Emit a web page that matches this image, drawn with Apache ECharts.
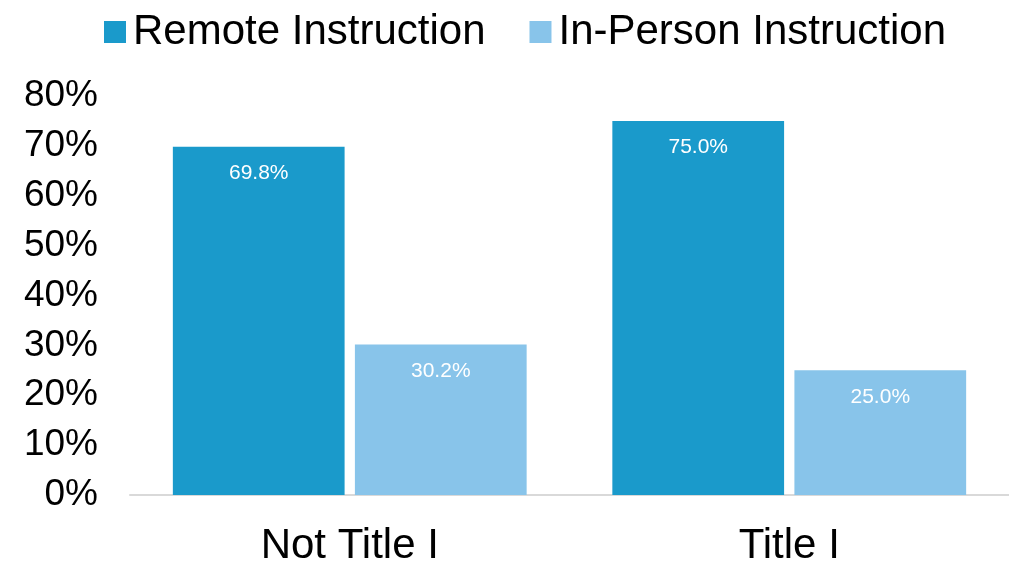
<!DOCTYPE html>
<html>
<head>
<meta charset="utf-8">
<script src="https://cdn.jsdelivr.net/npm/echarts@6/dist/echarts.min.js"></script>
<style>html,body{margin:0;padding:0;background:#fff}#c{width:1009px;height:567px}</style>
</head>
<body>
<div id="c"></div>
<script>
const categories = ['Not Title I', 'Title I'];
const seriesNames = ['Remote Instruction', 'In-Person Instruction'];
const remoteValues = [69.8, 75.0];
const inPersonValues = [30.2, 25.0];
const yTicks = [0, 10, 20, 30, 40, 50, 60, 70, 80];

const chart = echarts.init(document.getElementById('c'));
const font = 'Liberation Sans, Arial, sans-serif';
const labelCfg = {
  show: true, position: 'insideTop', distance: 16,
  color: '#ffffff', fontSize: 21, fontFamily: font,
  formatter: p => p.value.toFixed(1) + '%'
};
chart.setOption({
  animation: false,
  legend: {
    top: 6, left: 99, itemWidth: 22, itemHeight: 22, itemGap: 44,
    icon: 'rect',
    textStyle: { fontSize: 42, fontFamily: font, color: '#000', padding: [0, 0, 0, 2] },
    data: seriesNames
  },
  grid: { left: 130, top: 96, width: 883, height: 403 },
  xAxis: {
    type: 'category', data: categories,
    axisLine: { lineStyle: { color: '#d9d9d9', width: 2 } },
    axisTick: { show: false },
    axisLabel: { fontSize: 42, fontFamily: font, color: '#000', margin: 30 }
  },
  yAxis: {
    type: 'value', min: yTicks[0], max: yTicks[yTicks.length - 1], interval: 10,
    splitLine: { show: false },
    axisLine: { show: false }, axisTick: { show: false },
    axisLabel: { fontSize: 37, fontFamily: font, color: '#000', margin: 32, formatter: v => v + '%' }
  },
  series: [
    { name: seriesNames[0], type: 'bar', data: remoteValues, itemStyle: { color: '#1a9acb' },
      barGap: '6%', barCategoryGap: '19.5%', label: labelCfg },
    { name: seriesNames[1], type: 'bar', data: inPersonValues, itemStyle: { color: '#88c4ea' },
      label: labelCfg }
  ]
});
</script>
</body>
</html>
